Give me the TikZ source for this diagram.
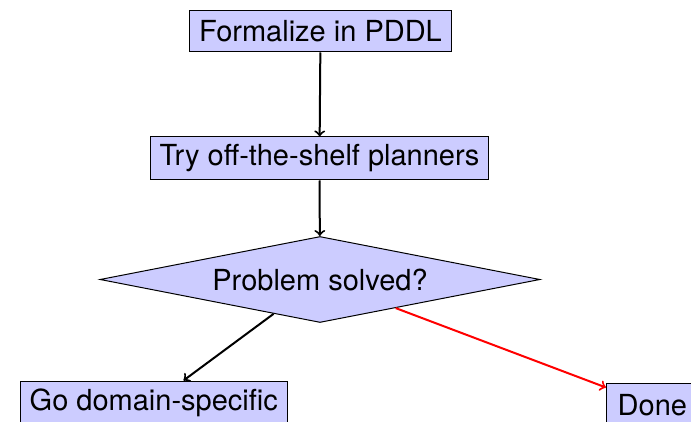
\documentclass[tikz,border=0pt]{standalone}
\usepackage{fontspec}
\setmainfont{TeX Gyre Heros}
\usetikzlibrary{shapes.geometric}
\begin{document}
\begin{tikzpicture}[x=0.5pt,y=-0.5pt,
  every node/.style={font=\fontsize{14.5pt}{17pt}\selectfont},
  box/.style={draw=black, line width=0.5pt, fill=blue!20, rectangle, inner xsep=4.6pt, inner ysep=0pt, minimum height=20.5pt},
  dec/.style={draw=black, line width=0.5pt, fill=blue!20, diamond, aspect=5.12, inner sep=0pt, minimum width=220pt, minimum height=43pt},
  arr/.style={->, line width=1pt, black},
  redarr/.style={->, line width=1pt, red}]
\useasboundingbox (0,0) rectangle (691,422);
\node[box] (f) at (320.5,31.5) {Formalize in PDDL};
\node[box, minimum height=21.5pt] (t) at (319.5,158.5) {Try off-the-shelf planners};
\node[dec] (d) at (320,279.5) {Problem solved?};
\node[box, anchor=north west, minimum height=21.5pt] (g) at (20,380.5) {Go domain-specific};
\node[box, anchor=north west, minimum height=21.5pt, inner xsep=5.6pt] (n) at (606,383) {Done};
\draw[arr] (f) -- (t);
\draw[arr] (t) -- (d);
\draw[arr] (d) -- (g);
\draw[redarr] (d) -- (n);
\end{tikzpicture}
\end{document}
